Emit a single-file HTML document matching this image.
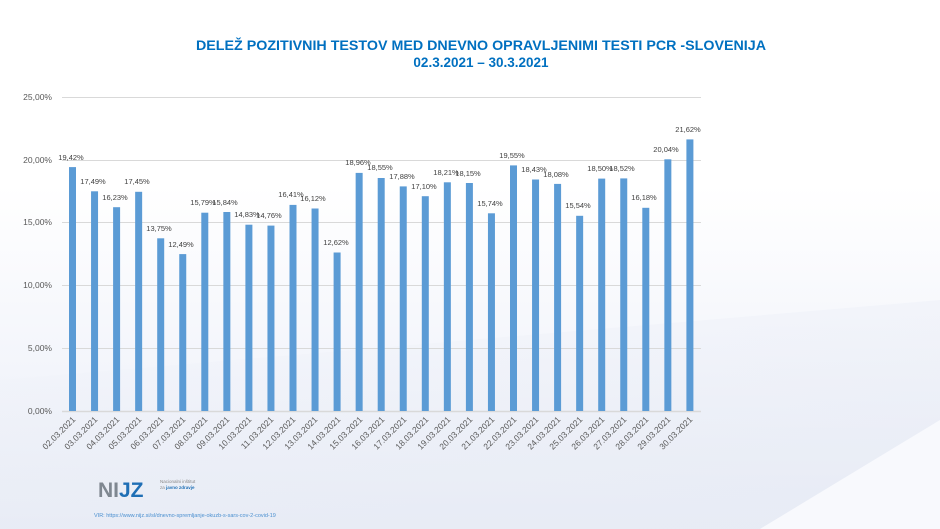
<!DOCTYPE html>
<html><head><meta charset="utf-8"><style>
html,body{margin:0;padding:0;width:940px;height:529px;overflow:hidden;}
body{background:linear-gradient(180deg,#ffffff 0%,#ffffff 35%,#f3f5fb 70%,#e9edf6 100%);font-family:"Liberation Sans",sans-serif;}
svg{position:absolute;left:0;top:0}
</style></head><body>
<svg width="940" height="529" viewBox="0 0 940 529">
<defs><linearGradient id="bg" x1="0" y1="0" x2="1" y2="1"><stop offset="0" stop-color="#e6eaf4" stop-opacity="0"/><stop offset="1" stop-color="#e6eaf4" stop-opacity="0.6"/></linearGradient></defs>
<polygon points="0,380 0,529 940,529 940,300" fill="url(#bg)"/>
<polygon points="760,529 940,529 940,420" fill="#f8f9fd"/>
<g font-family="Liberation Sans, sans-serif" font-weight="bold" font-size="13.5" fill="#0070C0" text-anchor="middle">
<text x="481" y="50" textLength="570" lengthAdjust="spacingAndGlyphs">DELEŽ POZITIVNIH  TESTOV MED DNEVNO  OPRAVLJENIMI TESTI PCR -SLOVENIJA</text>
<text x="481" y="67">02.3.2021 – 30.3.2021</text>
</g>
<g stroke="#d9d9d9" stroke-width="1">
<line x1="62" y1="97.5" x2="701" y2="97.5"/>
<line x1="62" y1="160.5" x2="701" y2="160.5"/>
<line x1="62" y1="222.5" x2="701" y2="222.5"/>
<line x1="62" y1="285.5" x2="701" y2="285.5"/>
<line x1="62" y1="348.5" x2="701" y2="348.5"/>
<line x1="62" y1="411.5" x2="701" y2="411.5" stroke-width="1.5"/>
</g>
<g font-size="8.5" fill="#595959" text-anchor="end">
<text x="52" y="100">25,00%</text>
<text x="52" y="163">20,00%</text>
<text x="52" y="225">15,00%</text>
<text x="52" y="288">10,00%</text>
<text x="52" y="351">5,00%</text>
<text x="52" y="414">0,00%</text>
</g>
<g fill="#5b9bd5">
<rect x="69" y="167.1" width="7" height="243.9"/>
<rect x="91.05" y="191.3" width="7" height="219.7"/>
<rect x="113.1" y="207.2" width="7" height="203.8"/>
<rect x="135.15" y="191.8" width="7" height="219.2"/>
<rect x="157.2" y="238.3" width="7" height="172.7"/>
<rect x="179.25" y="254.1" width="7" height="156.9"/>
<rect x="201.3" y="212.7" width="7" height="198.3"/>
<rect x="223.35" y="212" width="7" height="199"/>
<rect x="245.4" y="224.7" width="7" height="186.3"/>
<rect x="267.45" y="225.6" width="7" height="185.4"/>
<rect x="289.5" y="204.9" width="7" height="206.1"/>
<rect x="311.55" y="208.5" width="7" height="202.5"/>
<rect x="333.6" y="252.5" width="7" height="158.5"/>
<rect x="355.65" y="172.9" width="7" height="238.1"/>
<rect x="377.7" y="178" width="7" height="233"/>
<rect x="399.75" y="186.4" width="7" height="224.6"/>
<rect x="421.8" y="196.2" width="7" height="214.8"/>
<rect x="443.85" y="182.3" width="7" height="228.7"/>
<rect x="465.9" y="183" width="7" height="228"/>
<rect x="487.95" y="213.3" width="7" height="197.7"/>
<rect x="510" y="165.4" width="7" height="245.6"/>
<rect x="532.05" y="179.5" width="7" height="231.5"/>
<rect x="554.1" y="183.9" width="7" height="227.1"/>
<rect x="576.15" y="215.8" width="7" height="195.2"/>
<rect x="598.2" y="178.6" width="7" height="232.4"/>
<rect x="620.25" y="178.4" width="7" height="232.6"/>
<rect x="642.3" y="207.8" width="7" height="203.2"/>
<rect x="664.35" y="159.3" width="7" height="251.7"/>
<rect x="686.4" y="139.4" width="7" height="271.6"/>
</g>
<g font-size="7.5" fill="#404040" text-anchor="middle">
<text x="71" y="160">19,42%</text>
<text x="93" y="184">17,49%</text>
<text x="115" y="200">16,23%</text>
<text x="137" y="184">17,45%</text>
<text x="159" y="231">13,75%</text>
<text x="181" y="247">12,49%</text>
<text x="203" y="205">15,79%</text>
<text x="225" y="205">15,84%</text>
<text x="247" y="217">14,83%</text>
<text x="269" y="218">14,76%</text>
<text x="291" y="197">16,41%</text>
<text x="313" y="201">16,12%</text>
<text x="336" y="245">12,62%</text>
<text x="358" y="165">18,96%</text>
<text x="380" y="170">18,55%</text>
<text x="402" y="179">17,88%</text>
<text x="424" y="189">17,10%</text>
<text x="446" y="175">18,21%</text>
<text x="468" y="176">18,15%</text>
<text x="490" y="206">15,74%</text>
<text x="512" y="158">19,55%</text>
<text x="534" y="172">18,43%</text>
<text x="556" y="177">18,08%</text>
<text x="578" y="208">15,54%</text>
<text x="600" y="171">18,50%</text>
<text x="622" y="171">18,52%</text>
<text x="644" y="200">16,18%</text>
<text x="666" y="152">20,04%</text>
<text x="688" y="132">21,62%</text>
</g>
<g font-size="8.5" fill="#595959" text-anchor="end">
<text transform="translate(76,420) rotate(-45)">02.03.2021</text>
<text transform="translate(98,420) rotate(-45)">03.03.2021</text>
<text transform="translate(120,420) rotate(-45)">04.03.2021</text>
<text transform="translate(142,420) rotate(-45)">05.03.2021</text>
<text transform="translate(164,420) rotate(-45)">06.03.2021</text>
<text transform="translate(186,420) rotate(-45)">07.03.2021</text>
<text transform="translate(208,420) rotate(-45)">08.03.2021</text>
<text transform="translate(230,420) rotate(-45)">09.03.2021</text>
<text transform="translate(252,420) rotate(-45)">10.03.2021</text>
<text transform="translate(274,420) rotate(-45)">11.03.2021</text>
<text transform="translate(296,420) rotate(-45)">12.03.2021</text>
<text transform="translate(318,420) rotate(-45)">13.03.2021</text>
<text transform="translate(341,420) rotate(-45)">14.03.2021</text>
<text transform="translate(363,420) rotate(-45)">15.03.2021</text>
<text transform="translate(385,420) rotate(-45)">16.03.2021</text>
<text transform="translate(407,420) rotate(-45)">17.03.2021</text>
<text transform="translate(429,420) rotate(-45)">18.03.2021</text>
<text transform="translate(451,420) rotate(-45)">19.03.2021</text>
<text transform="translate(473,420) rotate(-45)">20.03.2021</text>
<text transform="translate(495,420) rotate(-45)">21.03.2021</text>
<text transform="translate(517,420) rotate(-45)">22.03.2021</text>
<text transform="translate(539,420) rotate(-45)">23.03.2021</text>
<text transform="translate(561,420) rotate(-45)">24.03.2021</text>
<text transform="translate(583,420) rotate(-45)">25.03.2021</text>
<text transform="translate(605,420) rotate(-45)">26.03.2021</text>
<text transform="translate(627,420) rotate(-45)">27.03.2021</text>
<text transform="translate(649,420) rotate(-45)">28.03.2021</text>
<text transform="translate(671,420) rotate(-45)">29.03.2021</text>
<text transform="translate(693,420) rotate(-45)">30.03.2021</text>
</g>
<text x="98" y="497" font-size="21" font-weight="bold" fill="#7f8790" font-family="Liberation Sans, sans-serif">NI<tspan fill="#1f6fb5">JZ</tspan></text>
<text x="160" y="483" font-size="4.5" fill="#888">Nacionalni inštitut</text>
<text x="160" y="489" font-size="4.5" fill="#888">za <tspan fill="#1f6fb5" font-weight="bold">javno zdravje</tspan></text>
<text x="94" y="517" font-size="5.5" fill="#4a8fd0">VIR: https://www.nijz.si/sl/dnevno-spremljanje-okuzb-s-sars-cov-2-covid-19</text>
</svg>
</body></html>
